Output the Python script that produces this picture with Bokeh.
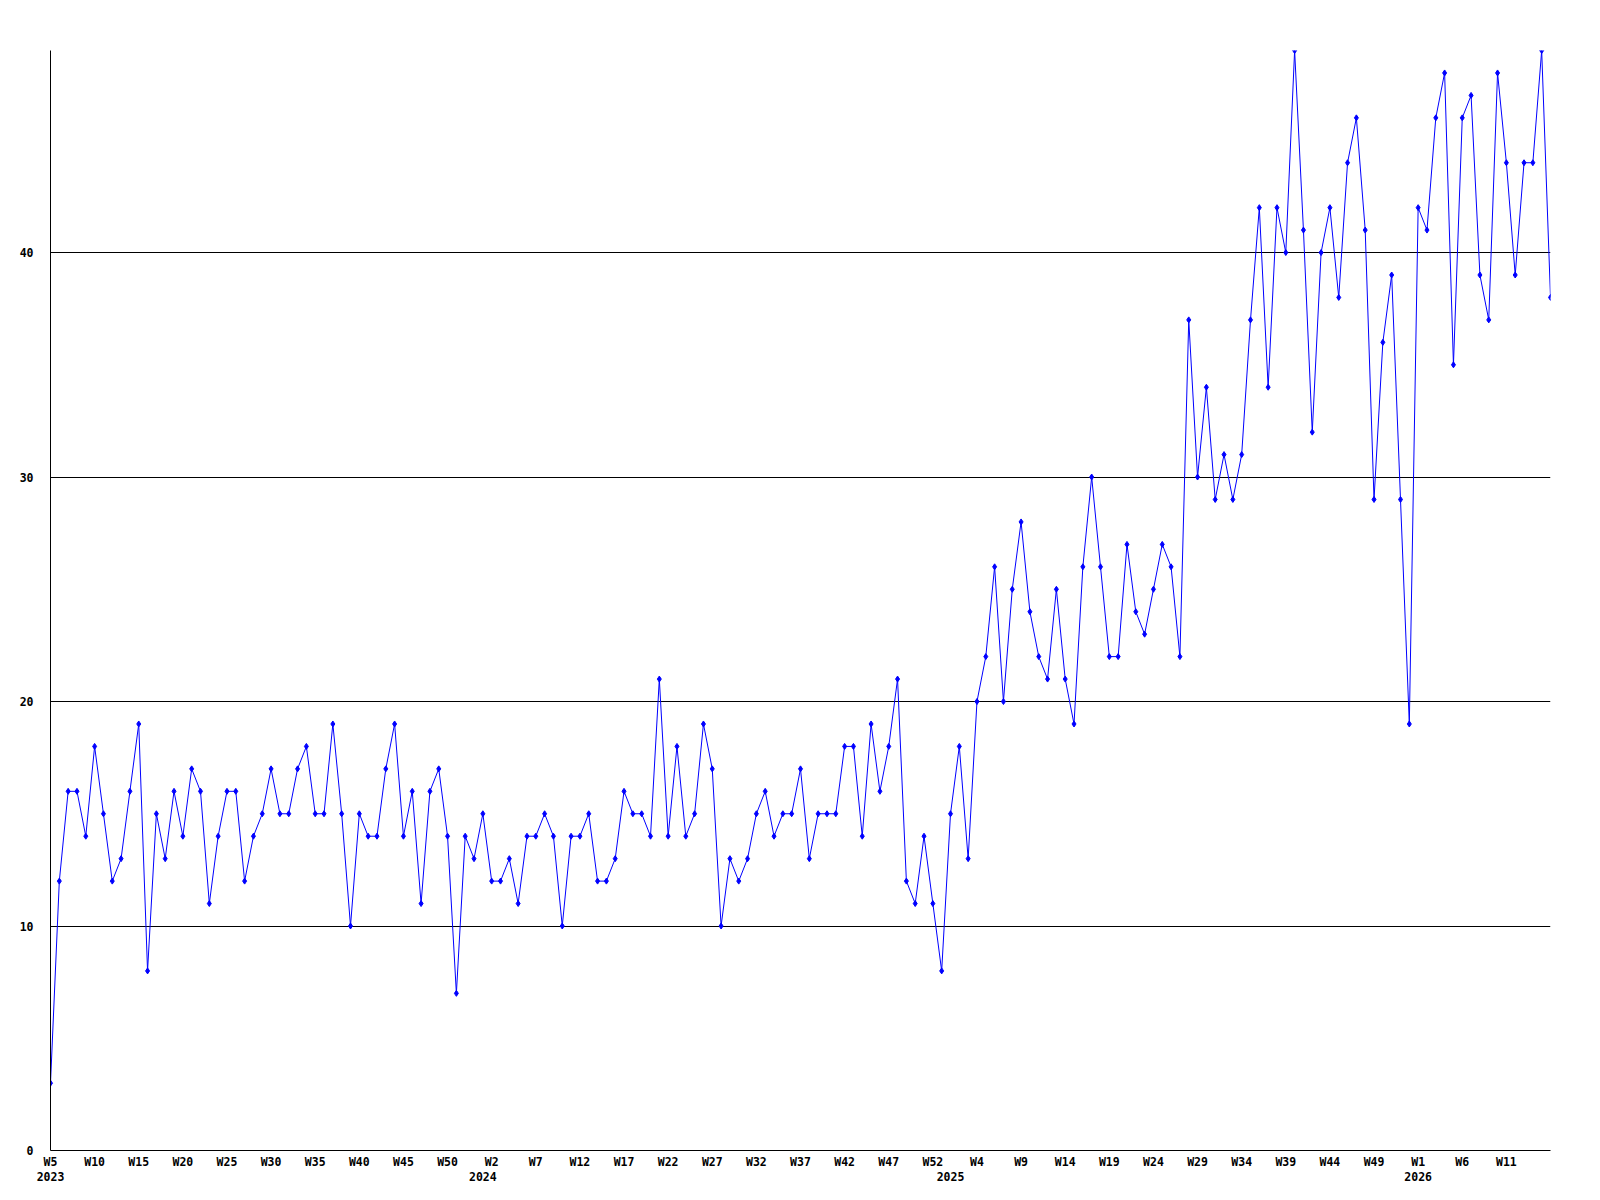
from bokeh.plotting import figure
from bokeh.models import Range1d, FixedTicker, LinearAxis
from bokeh.embed import file_html
from bokeh.resources import INLINE

# weekly values, 2023 W5 .. 2026 W16
values = [
    3, 12, 16, 16, 14, 18, 15, 12, 13, 16, 19, 8, 15, 13, 16, 14, 17, 16, 11, 14,
    16, 16, 12, 14, 15, 17, 15, 15, 17, 18, 15, 15, 19, 15, 10, 15, 14, 14, 17, 19,
    14, 16, 11, 16, 17, 14,
    7, 14, 13, 15, 12, 12, 13, 11, 14, 14, 15, 14, 10, 14, 14, 15, 12, 12, 13, 16,
    15, 15, 14, 21, 14, 18, 14, 15, 19, 17, 10, 13, 12, 13, 15, 16, 14, 15, 15, 17,
    13, 15, 15, 15,
    18, 18, 14, 19, 16, 18, 21, 12, 11, 14, 11, 8, 15, 18, 13, 20, 22, 26, 20, 25,
    28, 24, 22, 21, 25, 21, 19, 26,
    30, 26, 22, 22, 27, 24, 23, 25, 27, 26, 22, 37, 30, 34, 29, 31, 29, 31, 37, 42,
    34, 42, 40, 49, 41, 32, 40, 42,
    38, 44, 46, 41, 29, 36, 39, 29, 19, 42, 41, 46, 48, 35, 46, 47, 39, 37, 48, 44,
    39, 44, 44, 49, 38,
]

week_tick_labels = [
    "W5", "W10", "W15", "W20", "W25", "W30", "W35", "W40", "W45", "W50",
    "W2", "W7", "W12", "W17", "W22", "W27", "W32", "W37", "W42", "W47", "W52",
    "W4", "W9", "W14", "W19", "W24", "W29", "W34", "W39", "W44", "W49",
    "W1", "W6", "W11",
]
year_labels = ["2023", "2024", "2025", "2026"]
year_start_index = [0, 49, 102, 155]
y_ticks = [0, 10, 20, 30, 40]

FONT = "DejaVu Sans Mono"
FSIZE = "11.5px"

x = list(range(len(values)))
week_ticks = [5 * i for i in range(len(week_tick_labels))]

p = figure(
    frame_width=1500, frame_height=1100,
    min_border_left=50, min_border_right=34, min_border_top=50, min_border_bottom=34,
    x_range=Range1d(0, len(values) - 1), y_range=Range1d(0, max(values)),
    output_backend="svg", toolbar_location=None, x_axis_type=None,
    background_fill_color="white", border_fill_color="white",
)
p.outline_line_color = None

# week axis
wax = LinearAxis(
    ticker=FixedTicker(ticks=week_ticks),
    major_label_overrides={t: l for t, l in zip(week_ticks, week_tick_labels)},
)
# year axis
yax = LinearAxis(
    ticker=FixedTicker(ticks=year_start_index),
    major_label_overrides={t: l for t, l in zip(year_start_index, year_labels)},
)
for ax in (wax, yax):
    ax.major_tick_out = 0
    ax.major_tick_in = 0
    ax.minor_tick_out = 0
    ax.minor_tick_in = 0
    ax.major_label_text_font = FONT
    ax.major_label_text_font_style = "bold"
    ax.major_label_text_font_size = FSIZE
    ax.major_label_text_color = "black"
wax.axis_line_color = "black"
wax.major_label_standoff = 4
yax.axis_line_color = None
yax.major_label_standoff = 0
p.add_layout(wax, "below")
p.add_layout(yax, "below")

p.yaxis.ticker = FixedTicker(ticks=y_ticks)
p.yaxis.axis_line_color = "black"
p.yaxis.major_tick_out = 0
p.yaxis.major_tick_in = 0
p.yaxis.minor_tick_out = 0
p.yaxis.minor_tick_in = 0
p.yaxis.major_label_standoff = 17
p.yaxis.major_label_text_font = FONT
p.yaxis.major_label_text_font_style = "bold"
p.yaxis.major_label_text_font_size = FSIZE
p.yaxis.major_label_text_color = "black"

p.xgrid.visible = False
p.ygrid.ticker = FixedTicker(ticks=y_ticks[1:])
p.ygrid.grid_line_color = "black"
p.ygrid.grid_line_width = 1

p.line(x, values, line_color="#0000ff", line_width=1)
p.scatter(x, values, marker="diamond", size=6, fill_color="#0000ff", line_color="#0000ff")

open("out.html", "w").write(file_html(p, INLINE))
